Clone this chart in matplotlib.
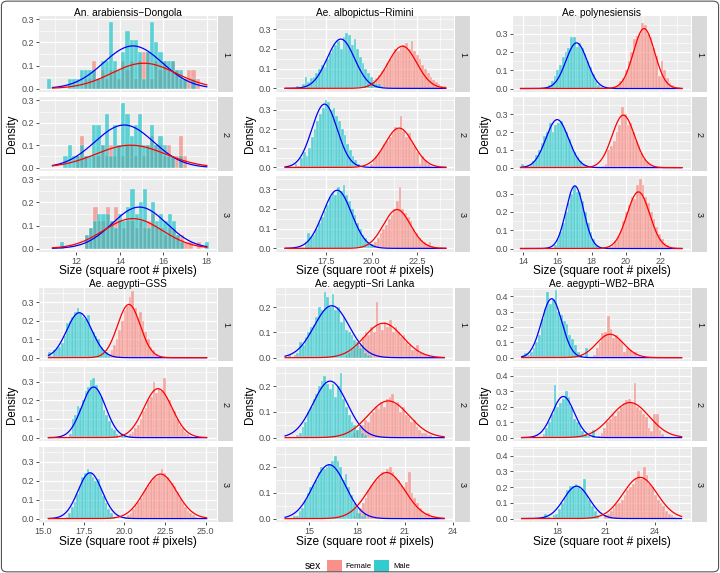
import numpy as np
import matplotlib.pyplot as plt
from matplotlib.patches import FancyBboxPatch, Rectangle

plt.rcParams['font.family'] = ['Liberation Sans', 'DejaVu Sans']

W, H = 720, 573

# ---------------- data ----------------
titles = ["An. arabiensis\u2212Dongola", "Ae. albopictus\u2212Rimini", "Ae. polynesiensis",
          "Ae. aegypti\u2212GSS", "Ae. aegypti\u2212Sri Lanka", "Ae. aegypti\u2212WB2\u2212BRA"]
replicates = ["1", "2", "3"]
sexes = ["Female", "Male"]

bin_width = [0.19, 0.15, 0.16, 0.16, 0.17, 0.17]

x_limits = [(10.28, 18.47), (14.72, 24.55), (13.41, 23.8),
            (14.75, 25.7), (12.93, 24.08), (15.27, 26.24)]
y_limits = [(-0.015, 0.315), (-0.0185, 0.367), (-0.019, 0.397),
            (-0.018, 0.378), (-0.013, 0.275), (-0.022, 0.455)]
x_ticks = [[12, 14, 16, 18], [17.5, 20.0, 22.5], [14, 16, 18, 20, 22],
           [15.0, 17.5, 20.0, 22.5, 25.0], [15, 18, 21, 24], [18, 21, 24]]
x_tick_labels = [["12", "14", "16", "18"], ["17.5", "20.0", "22.5"],
                 ["14", "16", "18", "20", "22"],
                 ["15.0", "17.5", "20.0", "22.5", "25.0"],
                 ["15", "18", "21", "24"], ["18", "21", "24"]]
y_ticks = [[0, 0.1, 0.2, 0.3], [0, 0.1, 0.2, 0.3], [0, 0.1, 0.2, 0.3],
           [0, 0.1, 0.2, 0.3], [0, 0.1, 0.2], [0, 0.1, 0.2, 0.3, 0.4]]
curve_span = [(10.9, 18.0), (15.22, 24.1), (13.85, 23.27),
              (15.33, 25.06), (13.5, 23.46), (15.8, 25.66)]

# fitted curves (mean, sd, peak height) per replicate
female_mu = [[15.1, 14.5, 14.6], [21.7, 21.52, 21.4], [21.06, 19.85, 20.73],
             [20.28, 22.07, 22.22], [19.66, 19.97, 19.86], [21.25, 22.48, 23.1]]
female_sd = [[1.48, 1.6, 1.35], [0.79, 0.78, 0.75], [0.62, 0.66, 0.66],
             [0.7, 0.87, 1.0], [1.2, 1.28, 1.15], [0.83, 1.18, 1.05]]
female_peak = [[0.11, 0.1, 0.13], [0.214, 0.205, 0.197], [0.328, 0.295, 0.31],
               [0.289, 0.262, 0.235], [0.136, 0.143, 0.177], [0.153, 0.226, 0.262]]
male_mu = [[14.6, 14.2, 14.9], [18.3, 17.4, 18.1], [17.12, 15.99, 17.02],
           [17.23, 18.11, 17.89], [16.42, 16.32, 16.27], [17.65, 18.37, 19.19]]
male_sd = [[1.35, 1.35, 1.25], [0.76, 0.7, 0.79], [0.62, 0.66, 0.52],
           [0.78, 0.74, 0.74], [1.1, 1.07, 1.02], [0.63, 0.68, 0.79]]
male_peak = [[0.185, 0.19, 0.18], [0.25, 0.33, 0.295], [0.25, 0.27, 0.343],
             [0.244, 0.271, 0.242], [0.205, 0.22, 0.207], [0.385, 0.265, 0.206]]

# histogram densities: left edge of first bin, then bar heights
arab_female_start = [12.355, 11.975, 12.405]
arab_female = [
    [0.04, 0.04, 0.12, 0.04, 0.08, 0.04, 0.08, 0.08, 0.04, 0.12, 0.08, 0.12, 0.04, 0.12,
     0.16, 0.16, 0.04, 0.12, 0.08, 0.12, 0.08, 0.12, 0.08, 0.04, 0.04, 0.08, 0.08, 0.04],
    [0.05, 0.14, 0.05, 0, 0.05, 0.05, 0.1, 0.05, 0.1, 0.05, 0.1, 0.05, 0.1, 0.1, 0.05,
     0.1, 0.05, 0.1, 0.14, 0.1, 0.1, 0.05, 0.1, 0.05, 0.05, 0.14, 0.05],
    [0.06, 0.09, 0.18, 0.12, 0.12, 0.18, 0.12, 0.18, 0.12, 0.09, 0.12, 0.12, 0.09, 0.12,
     0.09, 0.12, 0.15, 0.09, 0.09, 0.06, 0.09, 0.09, 0.06, 0.06, 0.03, 0.03, 0, 0.03],
]
arab_male_start = [10.645, 11.405, 11.255]
arab_male = [
    [0.04, 0, 0, 0, 0, 0.04, 0.04, 0.04, 0.08, 0.08, 0.08, 0.08, 0.04, 0.12, 0.12, 0.29,
     0.12, 0.08, 0.16, 0.25, 0.21, 0.21, 0.16, 0.04, 0.16, 0.29, 0.2, 0.16, 0.12, 0.12,
     0.12, 0.08, 0.08, 0.04, 0, 0.04],
    [0.05, 0.1, 0.05, 0.05, 0.1, 0.05, 0.05, 0.19, 0.19, 0.1, 0.24, 0.05, 0.19, 0.1,
     0.29, 0.24, 0.14, 0.19, 0.24, 0.1, 0.1, 0.19, 0.1, 0.14, 0.1, 0.05, 0.05, 0, 0.05],
    [0.03, 0, 0, 0, 0, 0, 0.06, 0.09, 0.12, 0.15, 0.15, 0.15, 0.12, 0.09, 0.15, 0.12,
     0.18, 0.26, 0.15, 0.2, 0.26, 0.09, 0.2, 0.12, 0.15, 0.12, 0.15, 0.12, 0.06, 0.03,
     0, 0, 0, 0, 0, 0.03],
]

albo_female_start = [19.6, 19.9, 20.0]
albo_female = [
    [0.01, 0.02, 0.03, 0.04, 0.05, 0.07, 0.09, 0.1, 0.13, 0.15, 0.17, 0.2, 0.19, 0.21,
     0.22, 0.23, 0.2, 0.24, 0.19, 0.17, 0.15, 0.12, 0.1, 0.08, 0.06, 0.04, 0.03, 0.02,
     0.01, 0.01],
    [0.02, 0.04, 0.06, 0.08, 0.1, 0.12, 0.14, 0.16, 0.18, 0.21, 0.2, 0.27, 0.19, 0.16,
     0.18, 0.13, 0.11, 0.08, 0.02, 0.06, 0.04, 0.02, 0.01],
    [0.02, 0.03, 0.05, 0.08, 0.1, 0.12, 0.15, 0.17, 0.2, 0.24, 0.31, 0.2, 0.18, 0.16,
     0.14, 0.1, 0.08, 0.05, 0.04, 0.03, 0.02, 0.03, 0.01],
]
albo_male_start = [15.85, 15.75, 16.3]
albo_male = [
    [0.01, 0.0, 0.02, 0.06, 0.03, 0.05, 0.06, 0.08, 0.1, 0.12, 0.11, 0.15, 0.18, 0.2,
     0.22, 0.24, 0.2, 0.26, 0.28, 0.27, 0.22, 0.25, 0.2, 0.16, 0.13, 0.1, 0.08, 0.06,
     0.03, 0.02, 0.02, 0.01],
    [0.02, 0.01, 0.05, 0.08, 0.06, 0.1, 0.16, 0.2, 0.24, 0.28, 0.31, 0.35, 0.34, 0.3,
     0.31, 0.27, 0.24, 0.2, 0.17, 0.12, 0.09, 0.06, 0.04, 0.02, 0.01, 0.01],
    [0.03, 0.08, 0.06, 0.07, 0.1, 0.13, 0.16, 0.19, 0.22, 0.26, 0.28, 0.27, 0.31, 0.29,
     0.32, 0.27, 0.24, 0.2, 0.17, 0.13, 0.1, 0.07, 0.05, 0.03, 0.02, 0.01],
]

poly_female_start = [19.3, 18.6, 19.0]
poly_female = [
    [0.01, 0.02, 0.04, 0.06, 0.1, 0.15, 0.2, 0.27, 0.29, 0.3, 0.36, 0.35, 0.3, 0.28,
     0.22, 0.18, 0.07, 0.15, 0.1, 0.06, 0.03, 0.02, 0.01, 0.01],
    [0.01, 0.02, 0.1, 0.12, 0.15, 0.2, 0.24, 0.34, 0.3, 0.24, 0.25, 0.2, 0.15, 0.12,
     0.08, 0.05, 0.03, 0.02, 0.01],
    [0.01, 0.02, 0.04, 0.07, 0.1, 0.15, 0.2, 0.24, 0.28, 0.27, 0.35, 0.38, 0.35, 0.28,
     0.25, 0.2, 0.16, 0.12, 0.08, 0.05, 0.03, 0.02, 0.01],
]
poly_male_start = [15.3, 13.9, 15.8]
poly_male = [
    [0.01, 0.02, 0.04, 0.07, 0.1, 0.13, 0.17, 0.2, 0.22, 0.28, 0.28, 0.23, 0.25, 0.22,
     0.19, 0.15, 0.12, 0.08, 0.04, 0.02, 0.01],
    [0.02, 0.0, 0.01, 0.02, 0.04, 0.07, 0.1, 0.14, 0.18, 0.2, 0.25, 0.2, 0.24, 0.25,
     0.26, 0.22, 0.2, 0.16, 0.12, 0.09, 0.06, 0.04, 0.02, 0.01],
    [0.02, 0.05, 0.09, 0.14, 0.2, 0.25, 0.3, 0.34, 0.31, 0.31, 0.26, 0.2, 0.14, 0.09,
     0.05, 0.02, 0.01],
]

gss_female_start = [19.0, 20.3, 20.0]
gss_female = [
    [0.02, 0.04, 0.07, 0.1, 0.15, 0.2, 0.26, 0.28, 0.33, 0.36, 0.27, 0.22, 0.25, 0.2,
     0.14, 0.1, 0.06, 0.04, 0.02, 0.01],
    [0.02, 0.03, 0.05, 0.07, 0.1, 0.14, 0.16, 0.2, 0.22, 0.3, 0.24, 0.26, 0.25, 0.32,
     0.22, 0.2, 0.16, 0.14, 0.1, 0.07, 0.05, 0.03, 0.02, 0.01],
    [0.01, 0.02, 0.03, 0.05, 0.07, 0.09, 0.11, 0.14, 0.16, 0.18, 0.2, 0.22, 0.22, 0.23,
     0.26, 0.24, 0.22, 0.2, 0.19, 0.17, 0.14, 0.11, 0.08, 0.06, 0.04, 0.03, 0.02, 0.01],
]
gss_male_start = [15.3, 16.6, 16.4]
gss_male = [
    [0.03, 0.01, 0.04, 0.05, 0.06, 0.08, 0.12, 0.19, 0.2, 0.22, 0.25, 0.27, 0.24, 0.22,
     0.21, 0.23, 0.16, 0.14, 0.12, 0.1, 0.06, 0.04, 0.03, 0.01],
    [0.02, 0.1, 0.12, 0.17, 0.16, 0.2, 0.25, 0.27, 0.31, 0.32, 0.28, 0.25, 0.22, 0.15,
     0.12, 0.09, 0.05, 0.04, 0.02, 0.0, 0.02, 0.01],
    [0.01, 0.03, 0.06, 0.09, 0.13, 0.17, 0.22, 0.24, 0.26, 0.24, 0.22, 0.2, 0.21, 0.16,
     0.12, 0.08, 0.05, 0.03, 0.01],
]

sri_female_start = [17.3, 17.6, 17.8]
sri_female = [
    [0.01, 0.02, 0.03, 0.04, 0.06, 0.05, 0.08, 0.1, 0.09, 0.12, 0.1, 0.22, 0.13, 0.11,
     0.14, 0.12, 0.15, 0.1, 0.12, 0.1, 0.08, 0.09, 0.06, 0.05, 0.03, 0.03, 0.05, 0.02,
     0.02, 0.01, 0.01],
    [0.01, 0.02, 0.03, 0.04, 0.05, 0.07, 0.06, 0.09, 0.1, 0.12, 0.11, 0.14, 0.12, 0.15,
     0.16, 0.17, 0.13, 0.14, 0.1, 0.12, 0.09, 0.08, 0.06, 0.07, 0.04, 0.03, 0.02, 0.02,
     0.01, 0.01],
    [0.01, 0.02, 0.04, 0.06, 0.08, 0.11, 0.13, 0.14, 0.15, 0.16, 0.18, 0.17, 0.19, 0.2,
     0.18, 0.16, 0.15, 0.13, 0.12, 0.14, 0.18, 0.1, 0.08, 0.06, 0.04, 0.03, 0.02, 0.02,
     0.01, 0.01],
]
sri_male_start = [13.7, 14.2, 14.0]
sri_male = [
    [0.01, 0.0, 0.01, 0.02, 0.06, 0.05, 0.08, 0.1, 0.12, 0.13, 0.16, 0.2, 0.19, 0.26,
     0.24, 0.2, 0.25, 0.19, 0.2, 0.14, 0.16, 0.11, 0.1, 0.09, 0.07, 0.06, 0.04, 0.05,
     0.02, 0.01, 0.01],
    [0.01, 0.02, 0.04, 0.06, 0.1, 0.12, 0.15, 0.17, 0.2, 0.22, 0.24, 0.21, 0.19, 0.21,
     0.16, 0.2, 0.25, 0.15, 0.12, 0.09, 0.06, 0.05, 0.03, 0.04, 0.02, 0.01],
    [0.01, 0.01, 0.03, 0.04, 0.07, 0.1, 0.12, 0.13, 0.15, 0.18, 0.2, 0.19, 0.2, 0.21,
     0.22, 0.24, 0.22, 0.2, 0.15, 0.17, 0.12, 0.09, 0.06, 0.04, 0.02, 0.01, 0.02],
]

wb2_female_start = [20.2, 20.5, 20.9]
wb2_female = [
    [0.02, 0.06, 0.1, 0.16, 0.17, 0.27, 0.19, 0.13, 0.15, 0.12, 0.1, 0.04, 0.06, 0.05,
     0.03, 0.04, 0.01],
    [0.01, 0.03, 0.06, 0.1, 0.12, 0.15, 0.14, 0.17, 0.2, 0.22, 0.24, 0.25, 0.22, 0.35,
     0.2, 0.18, 0.15, 0.13, 0.06, 0.04, 0.15, 0.15, 0.05, 0.02],
    [0.02, 0.03, 0.05, 0.07, 0.09, 0.1, 0.12, 0.15, 0.18, 0.2, 0.22, 0.25, 0.3, 0.25,
     0.33, 0.28, 0.22, 0.2, 0.15, 0.12, 0.1, 0.08, 0.05, 0.03, 0.02, 0.01],
]
wb2_male_start = [15.8, 17.1, 17.2]
wb2_male = [
    [0.02, 0.03, 0.02, 0.04, 0.06, 0.1, 0.15, 0.25, 0.32, 0.43, 0.35, 0.38, 0.44, 0.3,
     0.28, 0.24, 0.22, 0.15, 0.12, 0.08, 0.04, 0.02, 0.0, 0.06],
    [0.02, 0.06, 0.1, 0.15, 0.34, 0.2, 0.22, 0.25, 0.3, 0.26, 0.2, 0.12, 0.1, 0.08,
     0.04, 0.02, 0.01, 0.0, 0.05],
    [0.03, 0.01, 0.0, 0.02, 0.03, 0.06, 0.1, 0.13, 0.18, 0.21, 0.21, 0.22, 0.2, 0.19,
     0.25, 0.15, 0.12, 0.08, 0.05, 0.02],
]

female_start = [arab_female_start, albo_female_start, poly_female_start,
                gss_female_start, sri_female_start, wb2_female_start]
female_hist = [arab_female, albo_female, poly_female, gss_female, sri_female, wb2_female]
male_start = [arab_male_start, albo_male_start, poly_male_start,
              gss_male_start, sri_male_start, wb2_male_start]
male_hist = [arab_male, albo_male, poly_male, gss_male, sri_male, wb2_male]

# ---------------- layout (pixels) ----------------
col_x = [(39, 217), (276, 454), (513, 691)]
row_facets = [[(16, 92), (97, 171), (176, 252)],
              [(288, 361), (367, 441), (447, 522)]]
title_y = [13, 284]
xlab_y = [271, 542]
dens_x = [12, 250, 485]

female_col = "#F8766D"
male_col = "#00BFC4"


def fig_rect(x0, y0, x1, y1):
    return [x0 / W, 1 - y1 / H, (x1 - x0) / W, (y1 - y0) / H]


def minors(major, lo, hi):
    step = major[1] - major[0]
    vals = np.arange(major[0] - step / 2, hi, step)
    return [v for v in vals if lo < v < hi]


def gauss(x, mu, sd, peak):
    return peak * np.exp(-0.5 * ((x - mu) / sd) ** 2)


fig = plt.figure(figsize=(W / 100, H / 100), dpi=100)

for p in range(6):
    r, c = divmod(p, 3)
    x0, x1 = col_x[c]
    bw = bin_width[p]
    xs = np.linspace(curve_span[p][0], curve_span[p][1], 300)
    for f in range(3):
        y0, y1 = row_facets[r][f]
        ax = fig.add_axes(fig_rect(x0, y0, x1, y1))
        ax.set_facecolor("#EBEBEB")
        for s in ax.spines.values():
            s.set_visible(False)
        ax.set_xlim(*x_limits[p])
        ax.set_ylim(*y_limits[p])
        ax.set_xticks(x_ticks[p])
        ax.set_yticks(y_ticks[p])
        ax.set_xticks(minors(x_ticks[p], *x_limits[p]), minor=True)
        ax.set_yticks(minors(y_ticks[p], *y_limits[p]), minor=True)
        ax.set_yticklabels([f"{v:.1f}" for v in y_ticks[p]])
        if f == 2:
            ax.set_xticklabels(x_tick_labels[p])
        else:
            ax.set_xticklabels([])
        ax.grid(which='major', color='white', lw=0.9, zorder=0)
        ax.grid(which='minor', color='white', lw=0.45, zorder=0)
        ax.set_axisbelow(True)
        ax.tick_params(which='major', length=2.5, width=0.6, color='#333333',
                       labelsize=6.5, labelcolor='#4D4D4D', pad=1.2)
        ax.tick_params(which='minor', length=0)
        if f != 2:
            ax.tick_params(axis='x', which='major', length=0)

        fh = female_hist[p][f]
        fc = female_start[p][f] + bw / 2 + bw * np.arange(len(fh))
        ax.bar(fc, fh, width=bw, color=female_col, alpha=0.6,
               edgecolor='white', linewidth=0.3, zorder=2)
        mh = male_hist[p][f]
        mc = male_start[p][f] + bw / 2 + bw * np.arange(len(mh))
        ax.bar(mc, mh, width=bw, color=male_col, alpha=0.6,
               edgecolor='white', linewidth=0.3, zorder=3)

        ax.plot(xs, gauss(xs, male_mu[p][f], male_sd[p][f], male_peak[p][f]),
                color='blue', lw=0.9, zorder=4)
        ax.plot(xs, gauss(xs, female_mu[p][f], female_sd[p][f], female_peak[p][f]),
                color='red', lw=0.9, zorder=5)

        # facet strip
        sax = fig.add_axes(fig_rect(x1 + 1, y0, x1 + 16, y1))
        sax.set_facecolor("#D9D9D9")
        sax.set_xticks([])
        sax.set_yticks([])
        for s in sax.spines.values():
            s.set_visible(False)
        sax.text(0.5, 0.5, replicates[f], rotation=-90, ha='center', va='center',
                 fontsize=6.5, color='#1A1A1A', transform=sax.transAxes)

    fig.text((x0 + x1) / 2 / W, 1 - title_y[r] / H, titles[p], ha='center',
             va='center', fontsize=7.3, color='black')
    fig.text((x0 + x1) / 2 / W, 1 - xlab_y[r] / H, "Size (square root # pixels)",
             ha='center', va='center', fontsize=8.6, color='black')
    ymid = (row_facets[r][0][0] + row_facets[r][2][1]) / 2
    fig.text(dens_x[c] / W, 1 - ymid / H, "Density", rotation=90, ha='center',
             va='center', fontsize=8.3, color='black')

# legend
fig.text(313 / W, 1 - 566 / H, "sex", ha='center', va='center', fontsize=7.5)
fig.patches.append(Rectangle((327 / W, 1 - 572 / H), 15 / W, 12 / H, facecolor=female_col,
                             alpha=0.8, transform=fig.transFigure, figure=fig))
fig.text(345 / W, 1 - 566 / H, sexes[0], ha='left', va='center', fontsize=5.6)
fig.patches.append(Rectangle((374 / W, 1 - 572 / H), 15 / W, 12 / H, facecolor=male_col,
                             alpha=0.8, transform=fig.transFigure, figure=fig))
fig.text(393 / W, 1 - 566 / H, sexes[1], ha='left', va='center', fontsize=5.6)

# outer frame
fig.patches.append(FancyBboxPatch((0.002, 0.002), 0.996, 0.996,
                                  boxstyle="round,pad=0,rounding_size=0.008",
                                  transform=fig.transFigure, fill=False,
                                  edgecolor='#555555', lw=0.8, figure=fig))

fig.savefig("out.png", dpi=100)
